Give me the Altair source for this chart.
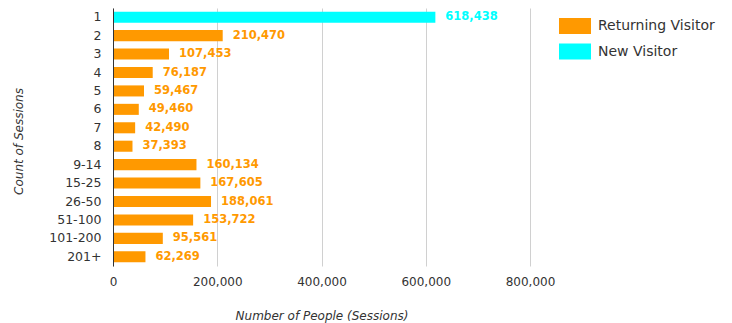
import altair as alt
import pandas as pd

categories = ["1", "2", "3", "4", "5", "6", "7", "8", "9-14", "15-25", "26-50", "51-100", "101-200", "201+"]
values = [618438, 210470, 107453, 76187, 59467, 49460, 42490, 37393, 160134, 167605, 188061, 153722, 95561, 62269]
visitor_type = ["New Visitor"] + ["Returning Visitor"] * 13
series_names = ["Returning Visitor", "New Visitor"]
series_colors = ["#FF9900", "#00FFFF"]
x_ticks = [0, 200000, 400000, 600000, 800000]

df = pd.DataFrame({"cat": categories, "value": values, "type": visitor_type})

FONT = "DejaVu Sans"

y_enc = alt.Y(
    "cat:N",
    sort=categories,
    scale=alt.Scale(paddingInner=0.4, paddingOuter=0.2),
    axis=alt.Axis(
        title="Count of Sessions",
        titleFont=FONT, titleFontSize=12, titleFontStyle="italic", titleFontWeight="normal",
        titleColor="#333333", titleAngle=-90, titleX=-95, titleY=133,
        titleAlign="center", titleBaseline="middle",
        labelFont=FONT, labelFontSize=12.5, labelColor="#333333", labelPadding=12,
        ticks=False, domain=True, domainColor="#333333", domainWidth=1, grid=False,
        zindex=1,
    ),
)

x_scale = alt.Scale(domain=[0, 800000], nice=False)

bars = alt.Chart(df).mark_bar().encode(
    x=alt.X(
        "value:Q",
        scale=x_scale,
        axis=alt.Axis(
            values=x_ticks, format=",d",
            title="Number of People (Sessions)",
            titleFont=FONT, titleFontSize=12, titleFontStyle="italic", titleFontWeight="normal",
            titleColor="#333333", titleY=49, titleBaseline="middle",
            labelFont=FONT, labelFontSize=12, labelColor="#333333", labelPadding=10,
            labelFlush=False,
            ticks=False, domain=False, grid=True, gridColor="#D0D0D0", gridWidth=1,
        ),
    ),
    y=y_enc,
    color=alt.Color(
        "type:N",
        scale=alt.Scale(domain=series_names, range=series_colors),
        legend=alt.Legend(
            title=None, orient="none", legendX=446, legendY=2, padding=0,
            symbolType="M-1,-0.5H1V0.5H-1Z", symbolSize=1024, symbolStrokeWidth=0,
            labelFont=FONT, labelFontSize=14, labelColor="#333333", labelOffset=7,
            rowPadding=1.5,
        ),
    ),
)

labels = alt.Chart(df).mark_text(
    align="left", baseline="middle", dx=10, font=FONT, fontSize=11.5, fontWeight="bold"
).encode(
    x=alt.X("value:Q", scale=x_scale),
    y=alt.Y("cat:N", sort=categories),
    text=alt.Text("value:Q", format=",d"),
    color=alt.Color("type:N", scale=alt.Scale(domain=series_names, range=series_colors), legend=None),
)

chart = (bars + labels).properties(
    width=417, height=258,
    autosize=alt.AutoSizeParams(type="none"),
    padding={"left": 113, "top": 8, "right": 202, "bottom": 57},
).configure_view(stroke=None)

chart.save("out.html", embed_options={"renderer": "svg", "actions": False})
